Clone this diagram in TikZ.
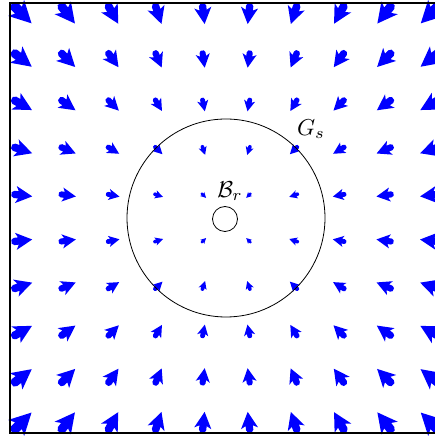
\documentclass[tikz,border=0pt]{standalone}
\tikzset{
  vecarrow/.style={fill=blue, draw=none},
  frameline/.style={draw=black, line width=1.6pt},
  thincircle/.style={draw=black, line width=0.8pt, circle, inner sep=0pt},
  mathlabel/.style={scale=2.3, inner sep=0pt}
}
\begin{document}
\begin{tikzpicture}[x=1pt,y=1pt]
\clip (0,0) rectangle (435,436);
\foreach \i in {0,...,9}{
 \foreach \j in {0,...,9}{
  \pgfmathsetmacro\cx{20.5+45.7*\i}
  \pgfmathsetmacro\cy{12.4+45.7*\j}
  \pgfmathsetmacro\dx{\cx-226.2}
  \pgfmathsetmacro\dy{\cy-218}
  \pgfmathsetmacro\ang{atan2(-\dy,-\dx)}
  \pgfmathsetmacro\len{4.5+0.082*veclen(\dx,\dy)}
  \fill[vecarrow, shift={(\cx,\cy)}, rotate=\ang, scale=\len]
    (0.55,0) -- (-0.22,0.4) -- (-0.1,0.17) -- (-0.3,0.17) -- (-0.42,0.09)
    -- (-0.42,-0.09) -- (-0.3,-0.17) -- (-0.1,-0.17) -- (-0.22,-0.4) -- cycle;
 }}
\draw[frameline] (10,3) rectangle (442,433);
\node[thincircle, minimum size=198pt] (Gs) at (226,218) {};
\node[thincircle, minimum size=25pt] (Br) at (225,217) {};
\node[mathlabel] (GsLabel) at (311,307) {$G_s$};
\node[mathlabel] (BrLabel) at (230,245) {$\mathcal{B}_r$};
\end{tikzpicture}
\end{document}
